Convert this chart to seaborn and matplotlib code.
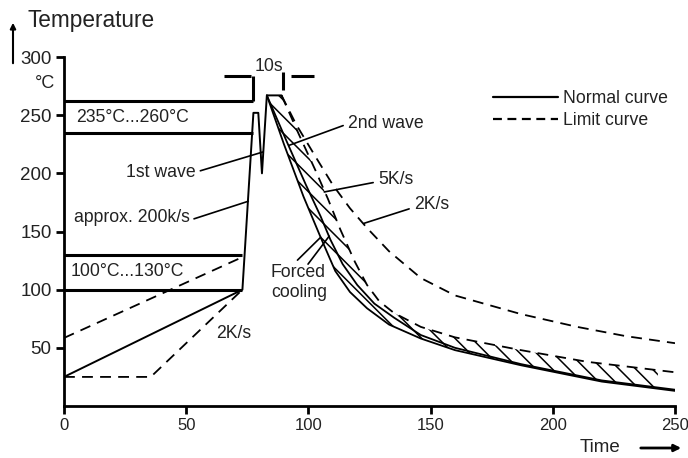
import numpy as np
import seaborn as sns
import matplotlib.pyplot as plt

sns.set_theme(style='white')
plt.rcParams['font.family'] = ['Liberation Sans', 'DejaVu Sans']
plt.rcParams['hatch.color'] = 'black'
plt.rcParams['hatch.linewidth'] = 1.1

# --- data (time in s, temperature in degC) ---
normal_t = [0, 73, 77.5, 79.5, 81, 83, 89]
normal_T = [25, 100, 252, 252, 200, 267, 267]

cool_normal_t = [83, 91, 99, 105, 109, 114, 120, 127, 135, 146, 160, 187, 220, 250]
cool_normal_T = [267, 228, 190, 163, 143, 122, 104, 88, 76, 61, 50, 36, 22, 14]

forced_t = [83, 90, 98, 105, 111, 117, 124, 133, 146, 160, 187, 220, 250]
forced_T = [267, 225, 180, 145, 116, 98, 84, 70, 58, 48, 35, 21, 13]

limit_5k_t = [89, 96, 103, 108, 113, 119, 124, 129, 135, 146, 160, 187, 214, 250]
limit_5k_T = [267, 234, 202, 178, 152, 124, 104, 90, 80, 68, 59, 48, 38, 29]

limit_2k_t = [89, 95, 103, 110, 117, 124, 133, 146, 160, 187, 210, 230, 250]
limit_2k_T = [267, 242, 214, 190, 170, 153, 133, 110, 95, 79, 68, 60, 54]

limit_low_t = [0, 35.5, 73]
limit_low_T = [25, 25, 100]
limit_high_t = [0, 73]
limit_high_T = [58.5, 128]

band_levels = [100, 130, 235, 262]
band_ends = [73, 73, 77.2, 77.2]

x_ticks = [0, 50, 100, 150, 200, 250]
y_ticks = [50, 100, 150, 200, 250, 300]

fig = plt.figure(figsize=(6.88, 4.58), dpi=100)
ax = fig.add_axes([64 / 688, 1 - 406 / 458, 611 / 688, 349 / 458])

k = 'black'
dash = (0, (6, 4))
line_kw = dict(ax=ax, color=k, estimator=None, sort=False)

sns.lineplot(x=normal_t, y=normal_T, lw=1.4, **line_kw)
sns.lineplot(x=cool_normal_t, y=cool_normal_T, lw=1.3, **line_kw)
sns.lineplot(x=forced_t, y=forced_T, lw=1.3, **line_kw)
sns.lineplot(x=limit_5k_t, y=limit_5k_T, lw=1.3, linestyle=dash, **line_kw)
sns.lineplot(x=limit_2k_t, y=limit_2k_T, lw=1.3, linestyle=dash, **line_kw)
sns.lineplot(x=limit_low_t, y=limit_low_T, lw=1.3, linestyle=dash, **line_kw)
sns.lineplot(x=limit_high_t, y=limit_high_T, lw=1.3, linestyle=dash, **line_kw)

# hatched tolerance band between forced cooling and the 5K/s limit
tg = np.linspace(83, 243, 400)
lo = np.interp(tg, forced_t, forced_T)
hi = np.maximum(np.interp(tg, cool_normal_t, cool_normal_T),
                np.interp(tg, limit_5k_t, limit_5k_T, left=267))
ax.fill_between(tg, lo, hi, facecolor='none', edgecolor=k, lw=0,
                hatch='\\\\')

# temperature ranges
ax.hlines(band_levels, 0, band_ends, colors=k, lw=2.2)

# 10 s dimension marker
ax.vlines([77.2, 89.5], [262, 271.5], [283.5, 287], colors=k, lw=2.2)
ax.hlines([283.8, 283.8], [65.5, 92.8], [76.4, 102.2], colors=k, lw=2.2)
ax.text(83.8, 291.5, '10s', ha='center', va='center', fontsize=12.7)

txt = dict(fontsize=12.7, color='#222222', va='center')
ax.text(4.8, 247.6, '235°C...260°C', ha='left', **txt)
ax.text(2.7, 115.4, '100°C...130°C', ha='left', **txt)
ax.text(62.2, 62.7, '2K/s', ha='left', **txt)

ptr = dict(arrowstyle='-', color=k, lw=1.2, shrinkA=1, shrinkB=0)
ax.annotate('1st wave', xy=(81.3, 218.3), xytext=(53.9, 201), ha='right',
            arrowprops=dict(relpos=(1, 0.5), **ptr), **txt)
ax.annotate('approx. 200k/s', xy=(75.4, 176), xytext=(3.9, 161.8), ha='left',
            arrowprops=dict(relpos=(1, 0.35), **ptr), **txt)
ax.annotate('2nd wave', xy=(92, 224), xytext=(116.1, 242.5), ha='left',
            arrowprops=dict(relpos=(0, 0.5), **ptr), **txt)
ax.annotate('5K/s', xy=(106.5, 184), xytext=(128.4, 195), ha='left',
            arrowprops=dict(relpos=(0, 0.35), **ptr), **txt)
ax.annotate('2K/s', xy=(122.7, 157), xytext=(143.1, 172.9), ha='left',
            arrowprops=dict(relpos=(0, 0.35), **ptr), **txt)
ax.annotate('Forced\ncooling', xy=(105, 145), xytext=(84.6, 106), ha='left',
            arrowprops=dict(relpos=(0.4, 1), **ptr), **txt)
ax.annotate('', xy=(108.5, 146), xytext=(99.5, 121), arrowprops=ptr)

# axes styling
ax.set_xlim(0, 250)
ax.set_ylim(0, 300)
ax.set_xticks(x_ticks)
ax.set_yticks(y_ticks)
ax.tick_params(axis='x', direction='out', length=6, width=2, pad=3,
               labelsize=12, colors=k, labelcolor='#222222')
ax.tick_params(axis='y', direction='out', length=6, width=2, pad=3,
               labelsize=13.5, colors=k, labelcolor='#222222')
ax.tick_params(bottom=True, left=True)
for side in ['top', 'right']:
    ax.spines[side].set_visible(False)
for side in ['left', 'bottom']:
    ax.spines[side].set_color(k)
    ax.spines[side].set_linewidth(2)
ax.set_xlabel('')
ax.set_ylabel('')

# legend
handles = [plt.Line2D([], [], color=k, lw=1.6),
           plt.Line2D([], [], color=k, lw=1.6, linestyle=(0, (4, 2.5)))]
fig.legend(handles, ['Normal curve', 'Limit curve'], loc='upper left',
           bbox_to_anchor=(493 / 688, 1 - 90 / 458), frameon=False,
           fontsize=12.7, handlelength=3.7, handletextpad=0.25,
           labelspacing=0.3, borderpad=0, borderaxespad=0,
           labelcolor='#222222')

# axis titles with arrows
fig.text(27 / 688, 1 - 20 / 458, 'Temperature', fontsize=16.3,
         color='#222222', va='center', ha='left')
fig.text(45 / 688, 1 - 83 / 458, '°C', fontsize=13, color='#222222',
         va='center', ha='center')
fig.text(580 / 688, 1 - 447 / 458, 'Time', fontsize=13.5, color='#222222',
         va='center', ha='left')
ax.annotate('', xy=(13, 458 - 20), xytext=(13, 458 - 66),
            xycoords='figure pixels', textcoords='figure pixels',
            arrowprops=dict(arrowstyle='-|>', color=k, lw=1.5,
                            mutation_scale=8))
ax.annotate('', xy=(684, 10), xytext=(638, 10),
            xycoords='figure pixels', textcoords='figure pixels',
            arrowprops=dict(arrowstyle='-|>', color=k, lw=2,
                            mutation_scale=10))

fig.savefig('out.png', dpi=100)
